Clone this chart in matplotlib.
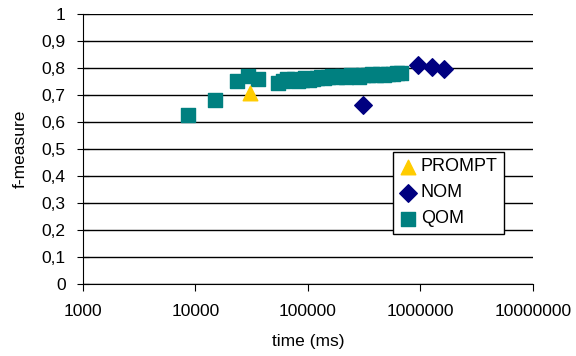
import numpy as np
import matplotlib
matplotlib.use('Agg')
import matplotlib.pyplot as plt
from matplotlib.ticker import FuncFormatter, NullLocator

plt.rcParams['font.family'] = ['Liberation Sans', 'DejaVu Sans']

# data
prompt_x = [30500]
prompt_y = [0.707]

nom_x = [308000, 950000, 1260000, 1620000]
nom_y = [0.663, 0.811, 0.804, 0.796]

qom_x = [8600, 14900, 23400, 29300, 35900, 54100,
         60000, 65000, 70000, 76000, 82000, 88000, 95000, 102000, 110000,
         120000, 130000, 140000, 152000, 165000, 180000, 200000, 220000,
         240000, 260000, 285000, 310000, 340000, 370000, 400000, 440000,
         480000, 520000, 570000, 620000, 680000]
qom_y = [0.626, 0.681, 0.752, 0.770, 0.759, 0.744,
         0.752, 0.758, 0.755, 0.760, 0.753, 0.757, 0.762, 0.756, 0.760,
         0.764, 0.768, 0.763, 0.767, 0.770, 0.766, 0.771, 0.768,
         0.773, 0.770, 0.766, 0.774, 0.772, 0.776, 0.773, 0.778,
         0.775, 0.779, 0.777, 0.781, 0.780]

yticks = [0, 0.1, 0.2, 0.3, 0.4, 0.5, 0.6, 0.7, 0.8, 0.9, 1]
xticks = [1000, 10000, 100000, 1000000, 10000000]

fig = plt.figure(figsize=(5.76, 3.56), dpi=100)
ax = fig.add_axes([0.144, 0.202, 0.781, 0.759])

for y in yticks:
    ax.axhline(y, color='black', lw=1, zorder=1)

ax.scatter(prompt_x, prompt_y, marker='^', s=110, color='#FFCC00', label='PROMPT', zorder=3)
ax.scatter(nom_x, nom_y, marker='D', s=80, color='#000080', label='NOM', zorder=3)
ax.scatter(qom_x, qom_y, marker='s', s=108, color='#008080', label='QOM', zorder=2)

ax.set_xscale('log')
ax.set_xlim(1000, 10000000)
ax.set_ylim(0, 1)
ax.set_xticks(xticks)
ax.set_xticklabels([str(v) for v in xticks])
ax.xaxis.set_minor_locator(NullLocator())
ax.set_yticks(yticks)
ax.yaxis.set_major_formatter(FuncFormatter(lambda v, p: ('%g' % v).replace('.', ',')))

ax.spines['top'].set_visible(False)
ax.spines['right'].set_visible(False)
ax.tick_params(axis='y', direction='inout', length=9, labelsize=12.5, pad=8)
ax.tick_params(axis='x', direction='out', length=5, labelsize=12.5, pad=9)

ax.set_xlabel('time (ms)', fontsize=12.5, labelpad=11)
ax.set_ylabel('f-measure', fontsize=12.5, labelpad=10)

leg = ax.legend(loc='upper left', bbox_to_anchor=(0.689, 0.489), borderaxespad=0,
                fontsize=13, frameon=True, fancybox=False, handletextpad=0.2,
                handlelength=1.0, labelspacing=0.5, borderpad=0.35, scatterpoints=1)
leg.get_frame().set_edgecolor('black')
leg.get_frame().set_linewidth(1)
leg.get_frame().set_alpha(1)

fig.savefig('out.png', dpi=100)
